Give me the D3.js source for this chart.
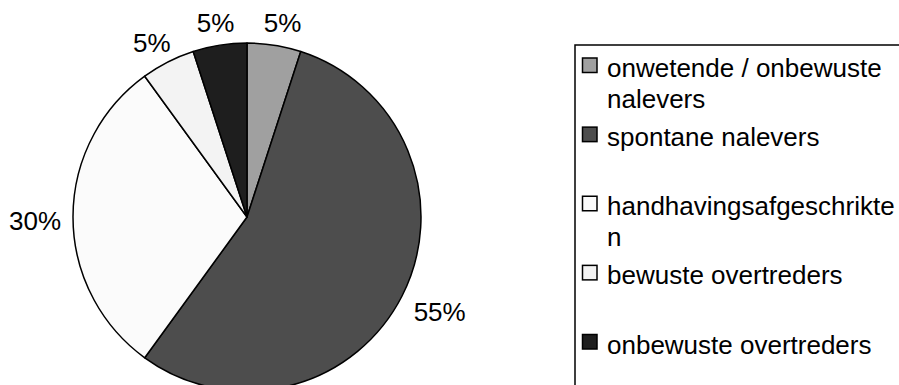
<!DOCTYPE html>
<html>
<head>
<meta charset="utf-8">
<script src="https://cdn.jsdelivr.net/npm/d3@7"></script>
<style>
  body { margin: 0; background: #fff; }
  svg { display: block; }
  text { font-family: "Liberation Sans", Arial, sans-serif; fill: #000; }
</style>
</head>
<body>
<svg width="899" height="385"></svg>
<script>
// data
var categories = ["onwetende / onbewuste nalevers", "spontane nalevers", "handhavingsafgeschrikten", "bewuste overtreders", "onbewuste overtreders"];
var legendLines = [["onwetende / onbewuste", "nalevers"], ["spontane nalevers"], ["handhavingsafgeschrikte", "n"], ["bewuste overtreders"], ["onbewuste overtreders"]];
var values = [5, 55, 30, 5, 5];
var colors = ["#a0a0a0", "#4d4d4d", "#fbfbfb", "#f3f3f3", "#1e1e1e"];

var svg = d3.select("svg");
var cx = 247, cy = 217, radius = 174;
var fontSize = 26;

var pie = d3.pie().sort(null).value(function(d) { return d; });
var arc = d3.arc().innerRadius(0).outerRadius(radius);
var arcs = pie(values);

var g = svg.append("g").attr("transform", "translate(" + cx + "," + cy + ")");

g.selectAll("path")
  .data(arcs)
  .enter().append("path")
    .attr("d", arc)
    .attr("fill", function(d, i) { return colors[i]; })
    .attr("stroke", "#000")
    .attr("stroke-width", 1.5)
    .attr("stroke-linejoin", "round");

// percent labels outside the pie, on a slightly flattened ring
var total = d3.sum(values);
function mid(d) { return (d.startAngle + d.endAngle) / 2; }
g.selectAll("text.lbl")
  .data(arcs)
  .enter().append("text")
    .attr("class", "lbl")
    .attr("text-anchor", "middle")
    .attr("dominant-baseline", "central")
    .attr("font-size", fontSize)
    .attr("x", function(d) { return 214 * Math.sin(mid(d)) + 2; })
    .attr("y", function(d) { return -200 * Math.cos(mid(d)) + 4; })
    .text(function(d) { return Math.round(d.value / total * 100) + "%"; });

// legend (box runs off the right and bottom edges)
var legend = svg.append("g").attr("transform", "translate(575,45)");
legend.append("rect")
  .attr("x", 0).attr("y", 0)
  .attr("width", 400).attr("height", 400)
  .attr("fill", "#fff")
  .attr("stroke", "#000")
  .attr("stroke-width", 1.5);

var itemY = d3.scalePoint().domain(d3.range(categories.length)).range([33, 309.5]);

var item = legend.selectAll("g.item")
  .data(categories)
  .enter().append("g")
    .attr("class", "item")
    .attr("transform", function(d, i) { return "translate(0," + itemY(i) + ")"; });

item.append("rect")
  .attr("x", 7.5).attr("y", -20)
  .attr("width", 14.5).attr("height", 14.5)
  .attr("fill", function(d, i) { return colors[i]; })
  .attr("stroke", "#000")
  .attr("stroke-width", 1.5);

item.append("text")
  .attr("x", 32)
  .attr("y", -1)
  .attr("font-size", fontSize)
  .selectAll("tspan")
  .data(function(d, i) { return legendLines[i]; })
  .enter().append("tspan")
    .attr("x", 32)
    .attr("dy", function(d, j) { return j === 0 ? 0 : 30.5; })
    .text(function(d) { return d; });
</script>
</body>
</html>
